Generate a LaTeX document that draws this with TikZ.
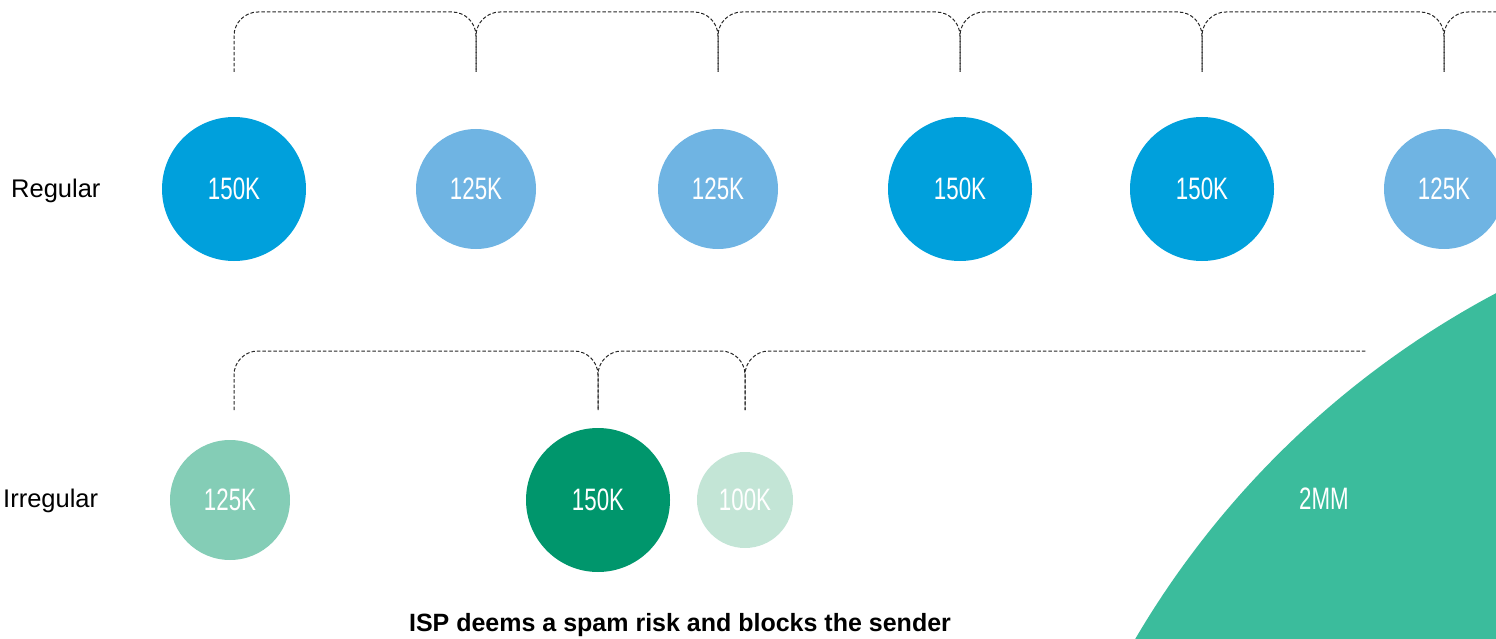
\documentclass[tikz,border=0pt]{standalone}
\usepackage{fontspec}
\setmainfont{Liberation Sans}
\newfontfamily\countfont[FakeStretch=0.72]{Liberation Sans}

\definecolor{blueHigh}{HTML}{00A0DC}
\definecolor{blueLow}{HTML}{6FB4E3}
\definecolor{greenMid}{HTML}{84CDB6}
\definecolor{greenHigh}{HTML}{00966C}
\definecolor{greenLow}{HTML}{C3E5D6}
\definecolor{greenBurst}{HTML}{3BBC9C}

\tikzset{
  sendvol/.style={circle, inner sep=0pt, text=white,
    font=\countfont\fontsize{31}{31}\selectfont},
  send150/.style={sendvol, minimum size=144pt},
  send125/.style={sendvol, minimum size=120pt},
  send100/.style={sendvol, minimum size=96pt},
  span/.style={line width=1pt, black!85, dash pattern=on 3.5pt off 2pt,
    rounded corners=24pt},
  rowlabel/.style={inner sep=0pt, font=\fontsize{25.5}{25.5}\selectfont}
}

\begin{document}
\begin{tikzpicture}[x=1pt, y=-1pt]
    \useasboundingbox (0,0) rectangle (1496,639);
    \begin{scope}
    \clip (0,0) rectangle (1496,639);
    % the 2MM send, far bigger than the page
    \fill[greenBurst] (1924,1101) circle (914pt);
    \node[sendvol] (burst) at (1324,499) {2MM};

    % regular sending
    \node[send150, fill=blueHigh] (r1) at (234,189) {150K};
    \node[send125, fill=blueLow] (r2) at (476,189) {125K};
    \node[send125, fill=blueLow] (r3) at (718,189) {125K};
    \node[send150, fill=blueHigh] (r4) at (960,189) {150K};
    \node[send150, fill=blueHigh] (r5) at (1202,189) {150K};
    \node[send125, fill=blueLow] (r6) at (1444,189) {125K};

    \coordinate (t1) at (234,72);
    \coordinate (t2) at (476,72);
    \coordinate (t3) at (718,72);
    \coordinate (t4) at (960,72);
    \coordinate (t5) at (1202,72);
    \coordinate (t6) at (1444,72);
    \draw[span] (t1) -- ++(0,-60) -| (t2);
    \draw[span] (t2) -- ++(0,-60) -| (t3);
    \draw[span] (t3) -- ++(0,-60) -| (t4);
    \draw[span] (t4) -- ++(0,-60) -| (t5);
    \draw[span] (t5) -- ++(0,-60) -| (t6);
    \draw[span] (t6) -- ++(0,-60) -- ++(90,0);

    % irregular sending
    \node[send125, fill=greenMid] (i1) at (230,500) {125K};
    \node[send150, fill=greenHigh] (i2) at (598,500) {150K};
    \node[send100, fill=greenLow] (i3) at (745,500) {100K};

    \coordinate (b1) at (234,410);
    \coordinate (b2) at (598,410);
    \coordinate (b3) at (745,410);
    \coordinate (b4) at (1367,351);
    \draw[span] (b1) -- ++(0,-59) -| (b2);
    \draw[span] (b2) -- ++(0,-59) -| (b3);
    \draw[span] (b3) |- (b4);
    \end{scope}

    \node[rowlabel, anchor=base west] (regular) at (11,197) {Regular};
    \node[rowlabel, anchor=base west] (irregular) at (3,507) {Irregular};
    \node[rowlabel, anchor=base, font=\bfseries\fontsize{25}{25}\selectfont] (verdict) at (680,631) {ISP deems a spam risk and blocks the sender};
\end{tikzpicture}
\end{document}
